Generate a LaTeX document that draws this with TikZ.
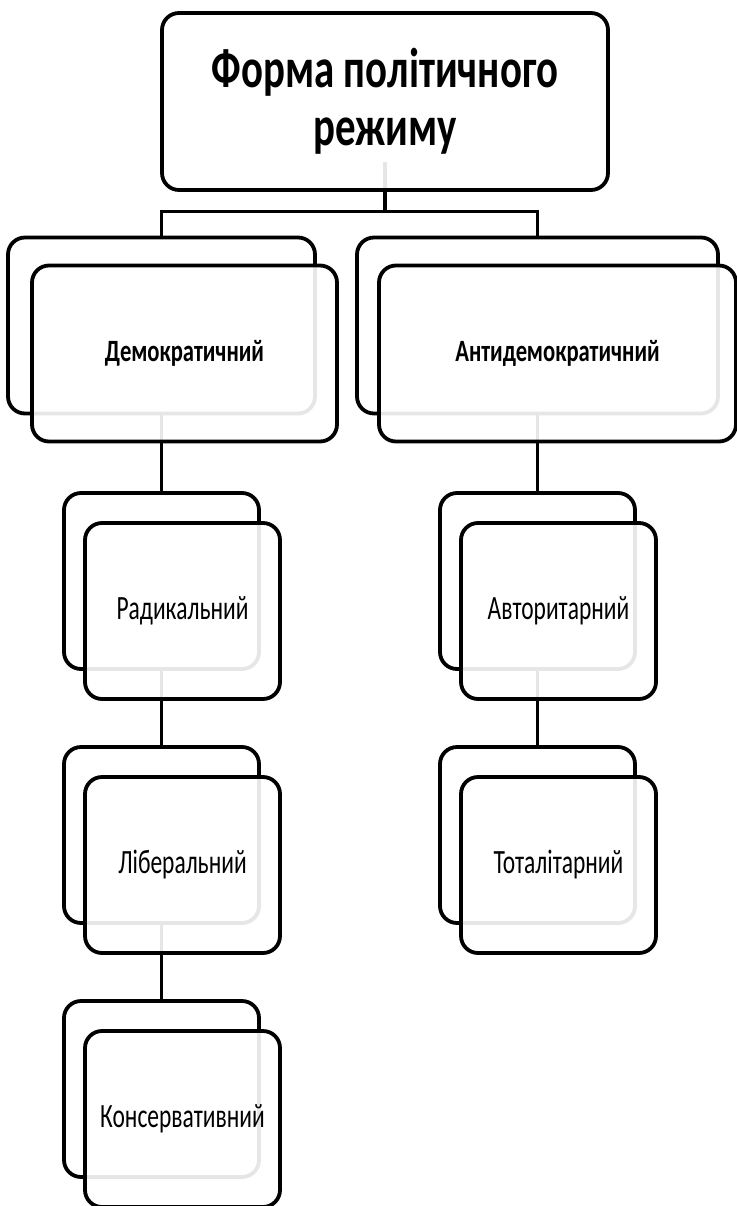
\documentclass[tikz,border=0pt]{standalone}
\usepackage{fontspec}
\setmainfont{Carlito}[FakeStretch=0.69]
\newfontfamily\headfont{Carlito}[FakeStretch=0.73]
\usetikzlibrary{positioning, backgrounds}

\begin{document}
\begin{tikzpicture}[on grid, auto,
    box/.style={draw, line width=3.8pt, rounded corners=17pt, fill=white, align=center, inner sep=0pt},
    shadow/.style={box, minimum height=176pt},
    card/.style={box, minimum height=176pt, fill opacity=0.9, text opacity=1},
    narrow/.style={minimum width=195pt},
    link/.style={line width=3.2pt}]
			\useasboundingbox (0,0) rectangle (736pt,-1206pt);
			
			% top
			\node[box, fill opacity=0.9, text opacity=1, minimum width=446pt, minimum height=177pt, font=\headfont\fontsize{56}{58}\selectfont\bfseries] (form) at (385pt,-101.5pt) {Форма політичного\\режиму};
			
			% left branch
			\node[shadow, minimum width=307pt] (demB) at (161.5pt,-325.5pt) {};
			\node[card, minimum width=305pt, below right=28pt and 23pt of demB, font=\headfont\fontsize{31}{35}\selectfont\bfseries] (dem) {Демократичний};
			\node[shadow, narrow, below=255.5pt of demB] (radB) {};
			\node[card, narrow, below right=30pt and 21pt of radB, font=\fontsize{34}{38}\selectfont] (rad) {Радикальний};
			\node[shadow, narrow, below=254pt of radB] (libB) {};
			\node[card, narrow, below right=30pt and 21pt of libB, font=\fontsize{34}{38}\selectfont] (lib) {Ліберальний};
			\node[shadow, narrow, below=254pt of libB] (konB) {};
			\node[card, narrow, below right=30pt and 21pt of konB, font=\fontsize{34}{38}\selectfont] (kon) {Консервативний};
			
			% right branch
			\node[shadow, minimum width=361pt] (antB) at (537.5pt,-325.5pt) {};
			\node[card, minimum width=357pt, below right=28pt and 20pt of antB, font=\headfont\fontsize{31}{35}\selectfont\bfseries] (ant) {Антидемократичний};
			\node[shadow, narrow, below=255.5pt of antB] (autB) {};
			\node[card, narrow, below right=30pt and 21pt of autB, font=\fontsize{34}{38}\selectfont] (aut) {Авторитарний};
			\node[shadow, narrow, below=254pt of autB] (totB) {};
			\node[card, narrow, below right=30pt and 21pt of totB, font=\fontsize{34}{38}\selectfont] (tot) {Тоталітарний};
			
			\begin{scope}[on background layer]
			\coordinate[below=20pt of form.south] (fork);
			\draw[link] ([yshift=30pt]form.south) -- (fork);
			\draw[link] (demB.north) |- (fork) -| (antB.north);
			\draw[link] (demB.south) -- (radB.north);
			\draw[link] (radB.south) -- (libB.north);
			\draw[link] (libB.south) -- (konB.north);
			\draw[link] (antB.south) -- (autB.north);
			\draw[link] (autB.south) -- (totB.north);
			\end{scope}
			
		\end{tikzpicture}
\end{document}
